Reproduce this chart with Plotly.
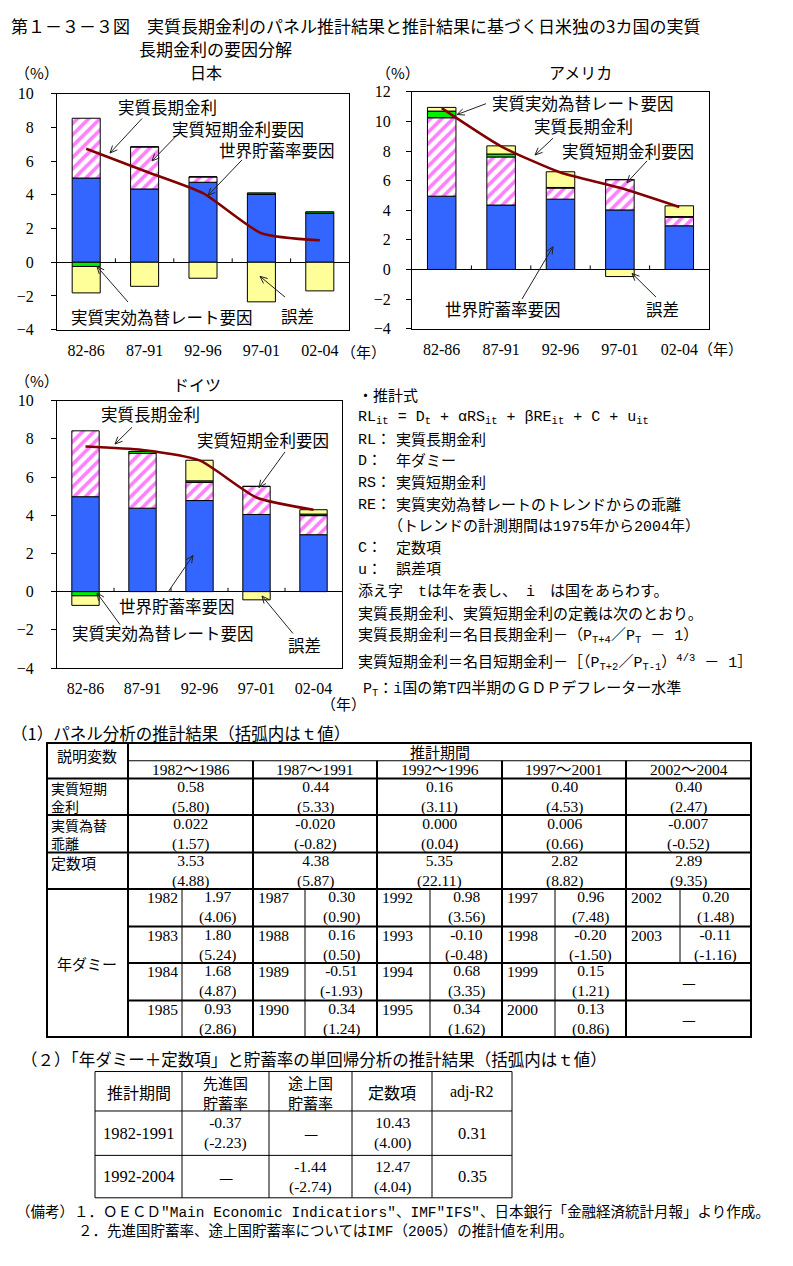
import math
import plotly.graph_objects as go

W, H = 793, 1266
F_GOTH = "Noto Sans CJK JP"
F_NUM = "Liberation Serif, Noto Sans CJK JP"
F_TXT = "Liberation Mono, Noto Sans CJK JP"

# ---------------- chart data ----------------
periods_x = ["82-86", "87-91", "92-96", "97-01", "02-04"]
series_names = ["世界貯蓄率要因", "実質短期金利要因", "実質実効為替レート要因", "誤差", "実質長期金利"]

jp_saving = [5.00, 4.35, 4.75, 4.05, 2.92]
jp_short = [3.55, 2.50, 0.32, 0.00, 0.00]
jp_fx = [-0.25, 0.00, 0.00, 0.07, 0.08]
jp_err = [-1.57, -1.43, -0.95, -2.35, -1.70]
jp_long = [6.74, 5.42, 4.10, 1.72, 1.30]

us_saving = [4.95, 4.35, 4.75, 4.02, 2.95]
us_short = [5.30, 3.25, 0.75, 2.05, 0.58]
us_fx = [0.45, 0.20, 0.04, 0.00, 0.04]
us_err = [0.25, 0.55, 1.06, -0.48, 0.73]
us_long = [10.90, 8.32, 6.55, 5.52, 4.22]

de_saving = [4.97, 4.37, 4.77, 4.04, 2.98]
de_short = [3.45, 2.87, 0.95, 1.47, 1.00]
de_fx = [-0.22, 0.10, 0.08, 0.00, 0.08]
de_err = [-0.50, 0.00, 1.08, -0.43, 0.23]
de_long = [7.60, 7.42, 6.87, 4.93, 4.29]

# ---------------- table data ----------------
t1_periods = ["1982～1986", "1987～1991", "1992～1996", "1997～2001", "2002～2004"]
t1_rs = ["0.58", "0.44", "0.16", "0.40", "0.40"]
t1_rs_t = ["(5.80)", "(5.33)", "(3.11)", "(4.53)", "(2.47)"]
t1_re = ["0.022", "-0.020", "0.000", "0.006", "-0.007"]
t1_re_t = ["(1.57)", "(-0.82)", "(0.04)", "(0.66)", "(-0.52)"]
t1_c = ["3.53", "4.38", "5.35", "2.82", "2.89"]
t1_c_t = ["(4.88)", "(5.87)", "(22.11)", "(8.82)", "(9.35)"]
t1_years = [["1982", "1983", "1984", "1985"], ["1987", "1988", "1989", "1990"],
            ["1992", "1993", "1994", "1995"], ["1997", "1998", "1999", "2000"],
            ["2002", "2003"]]
t1_dummy = [["1.97", "1.80", "1.68", "0.93"], ["0.30", "0.16", "-0.51", "0.34"],
            ["0.98", "-0.10", "0.68", "0.34"], ["0.96", "-0.20", "0.15", "0.13"],
            ["0.20", "-0.11"]]
t1_dummy_t = [["(4.06)", "(5.24)", "(4.87)", "(2.86)"], ["(0.90)", "(0.50)", "(-1.93)", "(1.24)"],
              ["(3.56)", "(-0.48)", "(3.35)", "(1.62)"], ["(7.48)", "(-1.50)", "(1.21)", "(0.86)"],
              ["(1.48)", "(-1.16)"]]

t2_header = ["推計期間", "先進国<br>貯蓄率", "途上国<br>貯蓄率", "定数項", "adj-R2"]
t2_periods = ["1982-1991", "1992-2004"]
t2_adv = [("-0.37", "(-2.23)"), None]
t2_dev = [None, ("-1.44", "(-2.74)")]
t2_const = [("10.43", "(4.00)"), ("12.47", "(4.04)")]
t2_r2 = ["0.31", "0.35"]

# ---------------- figure ----------------
fig = go.Figure()

BLUE = "#3366FF"
GREEN = "#00EE00"
YELLOW = "#FFFF99"
MAGENTA = "#FF00FF"
LINEC = "#800000"


def add_chart(k, saving, short, fx, err, long_):
    xa = "x" if k == 1 else f"x{k}"
    ya = "y" if k == 1 else f"y{k}"
    ol = dict(color="black", width=1)
    fig.add_trace(go.Bar(x=periods_x, y=saving, name=series_names[0], xaxis=xa, yaxis=ya,
                         marker=dict(color=BLUE, line=ol)))
    fig.add_trace(go.Bar(x=periods_x, y=short, name=series_names[1], xaxis=xa, yaxis=ya,
                         marker=dict(color="white", line=ol,
                                     pattern=dict(shape="/", fgcolor=MAGENTA, bgcolor="white",
                                                  size=8, solidity=0.45, fillmode="overlay"))))
    fig.add_trace(go.Bar(x=periods_x, y=fx, name=series_names[2], xaxis=xa, yaxis=ya,
                         marker=dict(color=GREEN, line=ol)))
    fig.add_trace(go.Bar(x=periods_x, y=err, name=series_names[3], xaxis=xa, yaxis=ya,
                         marker=dict(color=YELLOW, line=ol)))
    fig.add_trace(go.Scatter(x=periods_x, y=long_, name=series_names[4], xaxis=xa, yaxis=ya,
                             mode="lines", line=dict(color=LINEC, width=2.5, shape="spline", smoothing=0.6)))


add_chart(1, jp_saving, jp_short, jp_fx, jp_err, jp_long)
add_chart(2, us_saving, us_short, us_fx, us_err, us_long)
add_chart(3, de_saving, de_short, de_fx, de_err, de_long)


def px_dom(a, b):
    return [a / W, b / W]


def py_dom(top, bottom):
    return [1 - bottom / H, 1 - top / H]


def xaxis_cfg(dom, ya):
    return dict(domain=px_dom(*dom), anchor=ya, type="category", categoryarray=periods_x,
                showline=True, mirror=True, linecolor="black", linewidth=1, ticks="",
                showgrid=False, zeroline=False, tickfont=dict(family=F_NUM, size=16, color="black"),
                ticklabelstandoff=6, fixedrange=True)


def yaxis_cfg(dom, xa, rng, standoff):
    return dict(domain=py_dom(*dom), anchor=xa, range=rng, dtick=2, showline=True, mirror=True,
                linecolor="black", linewidth=1, ticks="outside", ticklen=5, tickcolor="black",
                showgrid=False, zeroline=True, zerolinecolor="black", zerolinewidth=1,
                tickfont=dict(family=F_NUM, size=16, color="black"), ticklabelstandoff=standoff,
                fixedrange=True)


fig.update_layout(
    width=W, height=H, margin=dict(l=0, r=0, t=0, b=0),
    paper_bgcolor="white", plot_bgcolor="rgba(0,0,0,0)",
    showlegend=False, barmode="relative", bargap=0.52,
    xaxis=xaxis_cfg((57, 349), "y"), yaxis=yaxis_cfg((87, 326), "x", [-4, 10], 14),
    xaxis2=xaxis_cfg((412, 709), "y2"), yaxis2=yaxis_cfg((85, 325), "x2", [-4, 12], 12),
    xaxis3=xaxis_cfg((57, 342), "y3"), yaxis3=yaxis_cfg((398, 669), "x3", [-4, 10], 14),
    xaxis4=dict(domain=[0, 1], range=[0, W], visible=False, anchor="y4", fixedrange=True),
    yaxis4=dict(domain=[0, 1], range=[H, 0], visible=False, anchor="x4", fixedrange=True),
)

shapes = []
ann = []

# small tick marks on the zero line at category boundaries
for xa, ya, tl in (("x", "y", 0.23), ("x2", "y2", 0.27), ("x3", "y3", 0.2)):
    for i in range(4):
        shapes.append(dict(type="line", xref=xa, yref=ya, x0=i + 0.5, x1=i + 0.5, y0=0, y1=tl,
                           line=dict(color="black", width=1)))


def txt(x, y, s, size=16, family=F_GOTH, xanchor="center", yanchor="middle", align="center"):
    ann.append(dict(x=x, y=y, xref="x4", yref="y4", text=s, showarrow=False,
                    font=dict(size=size, family=family, color="black"),
                    xanchor=xanchor, yanchor=yanchor, borderpad=0, align=align))


def arrow(x0, y0, x1, y1):
    ln = dict(color="#222222", width=1)
    shapes.append(dict(type="line", xref="x4", yref="y4", x0=x0, y0=y0, x1=x1, y1=y1, line=ln))
    ang = math.atan2(y1 - y0, x1 - x0)
    pts = []
    for s in (1, -1):
        a = ang + math.pi + s * 0.42
        pts.append((x1 + 8 * math.cos(a), y1 + 8 * math.sin(a)))
    path = f"M{pts[0][0]:.2f},{pts[0][1]:.2f} L{x1},{y1} L{pts[1][0]:.2f},{pts[1][1]:.2f}"
    shapes.append(dict(type="path", xref="x4", yref="y4", path=path, line=ln))


def hline(x0, x1, y, w=1):
    shapes.append(dict(type="line", xref="x4", yref="y4", x0=x0, x1=x1, y0=y, y1=y,
                       line=dict(color="black", width=w)))


def vline(x, y0, y1, w=1):
    shapes.append(dict(type="line", xref="x4", yref="y4", x0=x, x1=x, y0=y0, y1=y1,
                       line=dict(color="black", width=w)))


# title
txt(10, 18, "第１－３－３図　実質長期金利のパネル推計結果と推計結果に基づく日米独の3カ国の実質", size=17, xanchor="left")
txt(138, 41, "長期金利の要因分解", size=17, xanchor="left")

# chart headings
txt(37, 65, "（%）", size=15)
txt(206, 65, "日本", size=16)
txt(363, 348, "（年）", size=15)
txt(398, 65, "（%）", size=15)
txt(580, 65, "アメリカ", size=16)
txt(720, 345, "（年）", size=15)
txt(37, 378, "（%）", size=15)
txt(197, 381, "ドイツ", size=16)
txt(343, 705, "（年）", size=15)

# chart callouts
LBL = 16.5
txt(167, 100, series_names[4], LBL); arrow(142, 112, 110, 147)
txt(238, 123, series_names[1], LBL); arrow(175, 131, 152, 155)
txt(277, 144, series_names[0], LBL); arrow(242, 154, 208, 190)
txt(162, 313, series_names[2], LBL); arrow(128, 298, 97, 262)
txt(297, 312, series_names[3], LBL); arrow(285, 293, 260, 272)

txt(583, 96, series_names[2], LBL); arrow(486, 97, 457, 108)
txt(583, 120, series_names[4], LBL); arrow(553, 132, 535, 149)
txt(628, 145, series_names[1], LBL); arrow(647, 155, 627, 177)
txt(503, 305, series_names[0], LBL); arrow(522, 295, 553, 242)
txt(662, 305, series_names[3], LBL); arrow(656, 293, 632, 269)

txt(150, 412, series_names[4], LBL); arrow(132, 425, 115, 442)
txt(263, 438, series_names[1], LBL); arrow(285, 450, 259, 486)
txt(177, 606, series_names[0], LBL); arrow(168, 592, 193, 555)
txt(163, 633, series_names[2], LBL); arrow(120, 625, 97, 593)
txt(304, 646, series_names[3], LBL); arrow(293, 634, 262, 596)

# formula block
FS = 15
txt(357, 394, "・推計式", FS, F_TXT, "left")
txt(357, 416, "RL<sub>it</sub> = D<sub>t</sub> + αRS<sub>it</sub> + βRE<sub>it</sub> + C + u<sub>it</sub>", FS, F_TXT, "left")
for yy, lab, desc in ((438, "RL：", "実質長期金利"), (460, "D：", "年ダミー"), (482, "RS：", "実質短期金利"),
                      (504, "RE：", "実質実効為替レートのトレンドからの乖離"), (548, "C：", "定数項"),
                      (570, "u：", "誤差項")):
    txt(357, yy, lab, FS, F_TXT, "left")
    txt(395, yy, desc, FS, F_TXT, "left")
txt(387, 526, "（トレンドの計測期間は1975年から2004年）", FS, F_TXT, "left")
txt(357, 592, "添え字　tは年を表し、 i　は国をあらわす。", FS, F_TXT, "left")
txt(357, 615, "実質長期金利、実質短期金利の定義は次のとおり。", FS, F_TXT, "left")
txt(357, 637, "実質長期金利＝名目長期金利－（P<sub>T+4</sub>／P<sub>T</sub> － 1）", FS, F_TXT, "left")
txt(357, 663, "実質短期金利＝名目短期金利－［（P<sub>T+2</sub>／P<sub>T-1</sub>）<sup>4/3</sup> － 1］", FS, F_TXT, "left")
txt(362, 690, "P<sub>T</sub>：i国の第T四半期のＧＤＰデフレーター水準", FS, F_TXT, "left")

# ---------------- table 1 ----------------
txt(10, 735, "（1）パネル分析の推計結果（括弧内はｔ値）", 16.5, F_GOTH, "left")
TX0, TX1 = 47, 751
pcols = [128, 253, 377, 502, 626, 751]
scols = [182, 305, 430, 555, 680]
rows = [745, 763, 781, 818, 856, 893, 931, 968, 1006, 1043]

shapes.append(dict(type="rect", xref="x4", yref="y4", x0=TX0, x1=TX1, y0=rows[0], y1=rows[-1],
                   line=dict(color="black", width=2)))
vline(pcols[0], rows[0], rows[-1], 2)
hline(pcols[0], TX1, rows[1], 1)
for r in rows[2:6]:
    hline(TX0, TX1, r, 2)
for r in rows[6:9]:
    hline(pcols[0], TX1, r, 2)
for c in pcols[1:5]:
    vline(c, rows[1], rows[-1], 2)
for j, c in enumerate(scols):
    vline(c, rows[5], rows[-1] if j < 4 else rows[7], 1)

TF = 15
txt(87, 758, "説明変数", TF)
txt((pcols[0] + TX1) / 2, 754, "推計期間", TF)
txt(50, 799.5, "実質短期<br>金利", 14, xanchor="left", align="left")
txt(50, 837, "実質為替<br>乖離", 14, xanchor="left", align="left")
txt(50, 866, "定数項", TF, xanchor="left")
txt(87, 968, "年ダミー", TF)

NF = 15.5
for i in range(5):
    cx = (pcols[i] + pcols[i + 1]) / 2
    txt(cx, 772, t1_periods[i], NF, F_NUM)
    txt(cx, 799.5, t1_rs[i] + "<br>" + t1_rs_t[i], NF, F_NUM)
    txt(cx, 837, t1_re[i] + "<br>" + t1_re_t[i], NF, F_NUM)
    txt(cx, 874.5, t1_c[i] + "<br>" + t1_c_t[i], NF, F_NUM)
    vx = (scols[i] + pcols[i + 1]) / 2
    for r in range(4):
        top = rows[5 + r]
        if r < len(t1_years[i]):
            if i == 0:
                txt(scols[i] - 3, top + 9, t1_years[i][r], NF, F_NUM, "right")
            else:
                txt(pcols[i] + 4, top + 9, t1_years[i][r], NF, F_NUM, "left")
            txt(vx, top + 18.5, t1_dummy[i][r] + "<br>" + t1_dummy_t[i][r], NF, F_NUM)
        else:
            txt(cx, top + 19, "—", NF, F_GOTH)

# ---------------- table 2 ----------------
txt(20, 1065, "（２）「年ダミー＋定数項」と貯蓄率の単回帰分析の推計結果（括弧内はｔ値）", 16.5, F_GOTH, "left")
c2 = [95, 182, 269, 352, 432, 512]
r2 = [1078, 1118, 1163, 1206]
shapes.append(dict(type="rect", xref="x4", yref="y4", x0=c2[0], x1=c2[-1], y0=r2[0], y1=r2[-1],
                   line=dict(color="black", width=1)))
for c in c2[1:-1]:
    vline(c, r2[0], r2[-1], 1)
for r in r2[1:-1]:
    hline(c2[0], c2[-1], r, 1)
for j, h in enumerate(t2_header):
    cx = (c2[j] + c2[j + 1]) / 2
    txt(cx, 1099, h, 15 if "<br>" in h else 16, F_NUM if j == 4 else F_GOTH)
for k in range(2):
    mid = (r2[k + 1] + r2[k + 2]) / 2
    txt((c2[0] + c2[1]) / 2, mid, t2_periods[k], 16.5, F_NUM)
    for j, cell in ((1, t2_adv[k]), (2, t2_dev[k]), (3, t2_const[k])):
        cx = (c2[j] + c2[j + 1]) / 2
        if cell is None:
            txt(cx, mid, "—", 16, F_GOTH)
        else:
            txt(cx, mid, cell[0] + "<br>" + cell[1], 15.5, F_NUM)
    txt((c2[4] + c2[5]) / 2, mid, t2_r2[k], 16.5, F_NUM)

# notes
txt(15, 1221, "（備考）１．ＯＥＣＤ\"Main Economic Indicatiors\"、IMF\"IFS\"、日本銀行「金融経済統計月報」より作成。", 14.5, F_TXT, "left")
txt(77, 1240, "２．先進国貯蓄率、途上国貯蓄率についてはIMF（2005）の推計値を利用。", 14.5, F_TXT, "left")

fig.update_layout(shapes=shapes, annotations=ann)
fig.write_html("out.html")
